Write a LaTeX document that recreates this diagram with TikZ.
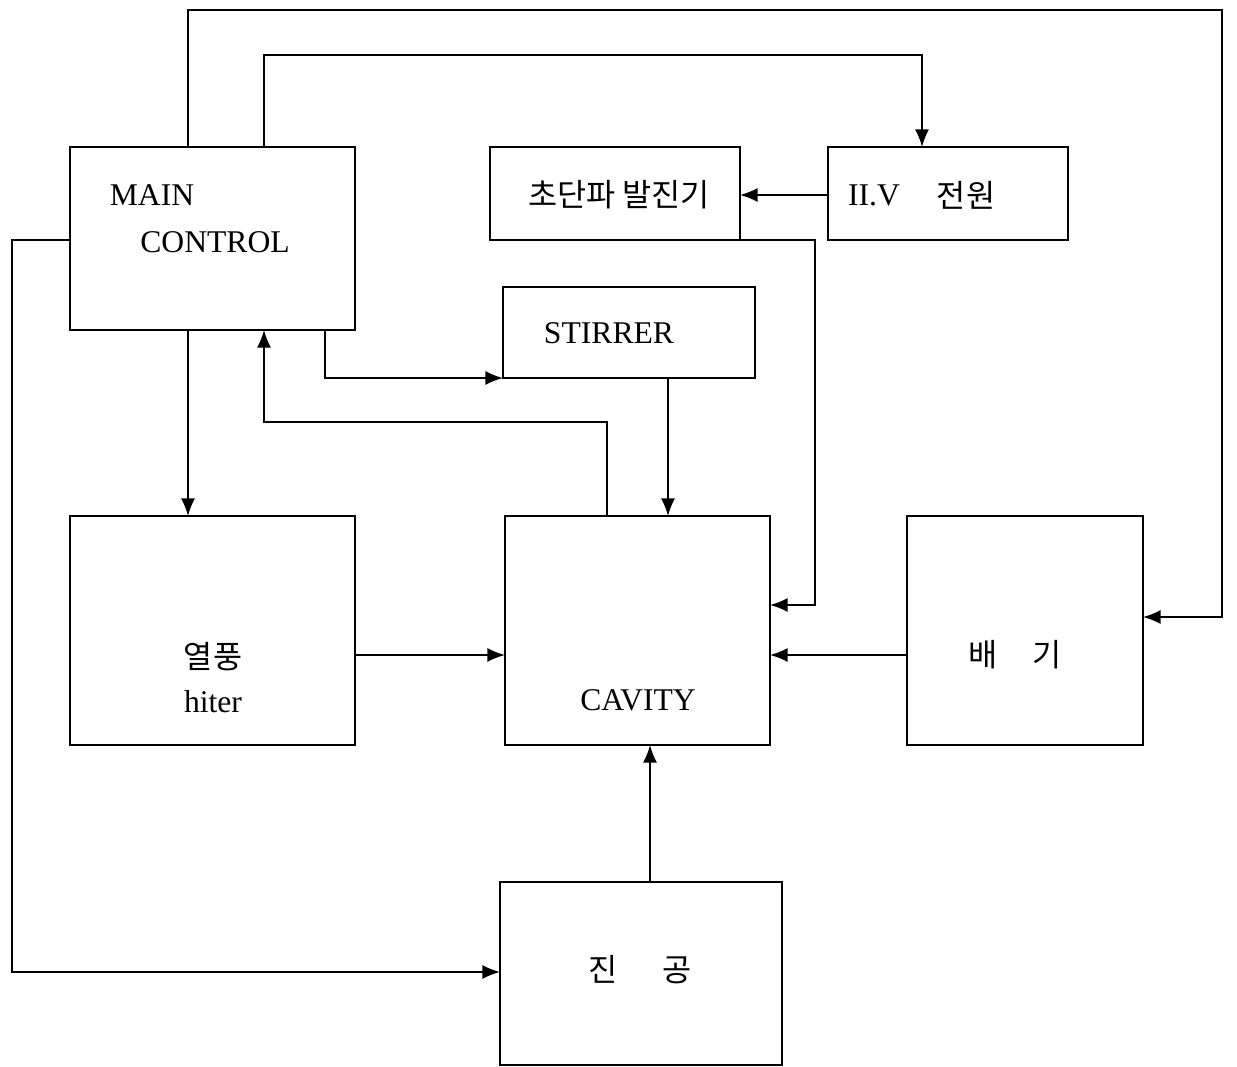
\documentclass[tikz,border=0pt]{standalone}
\usepackage{fontspec}
\setmainfont{Liberation Serif}
\newfontfamily\kr{Noto Sans CJK KR}
\usetikzlibrary{arrows.meta,fit}
\begin{document}
\begin{tikzpicture}[x=0.02cm,y=-0.02cm,
  box/.style={draw,line width=1.4pt,inner sep=0pt,outer sep=0pt},
  lbl/.style={font=\fontsize{18}{22}\selectfont,inner sep=0pt},
  klbl/.style={font=\kr\fontsize{18}{22}\selectfont,inner sep=0pt},
  arr/.style={line width=1pt,-{Latex[length=10pt,width=8pt]}}]
\useasboundingbox (0,0) rectangle (1237,1067);
% boxes
\node[box,fit={(70,147)(355,330)}] (main) {};
\node[box,fit={(490,147)(740,240)}] (osc) {};
\node[box,fit={(828,147)(1068,240)}] (hv) {};
\node[box,fit={(503,287)(755,378)}] (stir) {};
\node[box,fit={(70,516)(355,745)}] (heat) {};
\node[box,fit={(505,516)(770,745)}] (cav) {};
\node[box,fit={(907,516)(1143,745)}] (exh) {};
\node[box,fit={(500,882)(782,1065)}] (vac) {};
% labels
\node[lbl] (tmain) at (152,195) {MAIN};
\node[lbl] (tctrl) at (215,242) {CONTROL};
\node[klbl] (tosc) at (619,195) {초단파 발진기};
\node[lbl] (thv) at (874,195) {II.V};
\node[klbl] (thv2) at (966,195) {전원};
\node[lbl] (tstir) at (609,333) {STIRRER};
\node[klbl] (theat) at (213,657) {열풍};
\node[lbl] (thiter) at (213,702) {hiter};
\node[lbl] (tcav) at (638,700) {CAVITY};
\node[klbl] (texh) at (1015,655) {배\hspace{1.1em}기};
\node[klbl] (tvac) at (640,970) {진\hspace{1.4em}공};
% connectors
\draw[arr] (188,0 |- main.north) |- (1222,10) |- (exh.east |- 0,617);
\draw[arr] (264,0 |- main.north) |- (922,55) -- (922,0 |- hv.north);
\draw[arr] (hv.west |- 0,195) -- (osc.east |- 0,195);
\draw[arr] (osc.south east) -| (815,605) -- (cav.east |- 0,605);
\draw[arr] (exh.west |- 0,655) -- (cav.east |- 0,655);
\draw[arr] (325,0 |- main.south) |- (stir.south west);
\draw[arr] (668,0 |- stir.south) -- (668,0 |- cav.north);
\draw[arr] (607,0 |- cav.north) |- (264,422) -- (264,0 |- main.south);
\draw[arr] (188,0 |- main.south) -- (188,0 |- heat.north);
\draw[arr] (heat.east |- 0,655) -- (cav.west |- 0,655);
\draw[arr] (650,0 |- vac.north) -- (650,0 |- cav.south);
\draw[arr] (main.west |- 0,240) -| (12,972) -- (vac.west |- 0,972);
\end{tikzpicture}
\end{document}
